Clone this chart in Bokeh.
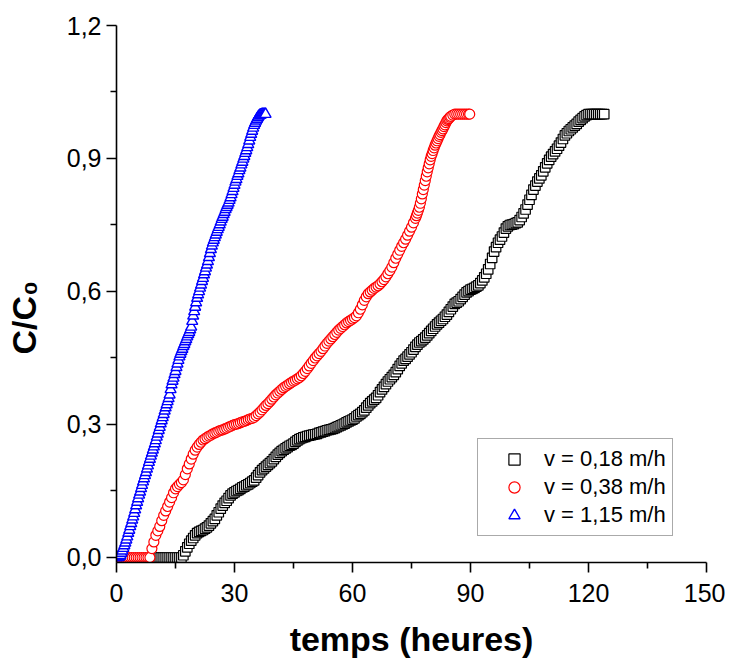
from bokeh.plotting import figure
from bokeh.models import FixedTicker, Legend, LegendItem, Range1d, CustomJSTickFormatter
from bokeh.embed import file_html
from bokeh.resources import INLINE

# v = 0,18 m/h  (black squares)
t_018 = [0, 0.5, 1, 1.5, 2, 2.5, 3, 3.5, 4, 4.5,
         5, 5.5, 6, 6.5, 7, 7.5, 8, 8.5, 9, 9.5,
         10, 10.5, 11, 11.5, 12, 12.5, 13, 13.5, 14, 14.5,
         15, 15.5, 16, 16.5, 17, 17.5, 18, 18.5, 19, 19.5,
         20, 20.5, 21, 21.5, 22, 22.5, 23, 23.5, 24, 24.5,
         25, 25.5, 26, 26.5, 27, 27.5, 28, 28.5, 29, 29.5,
         30, 30.5, 31, 31.5, 32, 32.5, 33, 33.5, 34, 34.5,
         35, 35.5, 36, 36.5, 37, 37.5, 38, 38.5, 39, 39.5,
         40, 40.5, 41, 41.5, 42, 42.5, 43, 43.5, 44, 44.5,
         45, 45.5, 46, 46.5, 47, 47.5, 48, 48.5, 49, 49.5,
         50, 50.5, 51, 51.5, 52, 52.5, 53, 53.5, 54, 54.5,
         55, 55.5, 56, 56.5, 57, 57.5, 58, 58.5, 59, 59.5,
         60, 60.5, 61, 61.5, 62, 62.5, 63, 63.5, 64, 64.5,
         65, 65.5, 66, 66.5, 67, 67.5, 68, 68.5, 69, 69.5,
         70, 70.5, 71, 71.5, 72, 72.5, 73, 73.5, 74, 74.5,
         75, 75.5, 76, 76.5, 77, 77.5, 78, 78.5, 79, 79.5,
         80, 80.5, 81, 81.5, 82, 82.5, 83, 83.5, 84, 84.5,
         85, 85.5, 86, 86.5, 87, 87.5, 88, 88.5, 89, 89.5,
         90, 90.5, 91, 91.5, 92, 92.5, 93, 93.5, 94, 94.5,
         95, 95.5, 96, 96.5, 97, 97.5, 98, 98.5, 99, 99.5,
         100, 100.5, 101, 101.5, 102, 102.5, 103, 103.5, 104, 104.5,
         105, 105.5, 106, 106.5, 107, 107.5, 108, 108.5, 109, 109.5,
         110, 110.5, 111, 111.5, 112, 112.5, 113, 113.5, 114, 114.5,
         115, 115.5, 116, 116.5, 117, 117.5, 118, 118.5, 119, 119.5,
         120, 120.5, 121, 121.5, 122, 122.5, 123, 123.5, 124]
c_018 = [0, 0, 0, 0, 0, 0, 0, 0, 0, 0,
         0, 0, 0, 0, 0, 0, 0, 0, 0, 0,
         0, 0, 0, 0, 0, 0, 0, 0, 0, 0,
         0, 0, 0, 0, 0.005, 0.014, 0.023, 0.031, 0.038, 0.044,
         0.05, 0.055, 0.058, 0.06, 0.062, 0.065, 0.068, 0.072, 0.077, 0.082,
         0.087, 0.095, 0.102, 0.11, 0.117, 0.123, 0.128, 0.134, 0.14, 0.144,
         0.147, 0.15, 0.152, 0.155, 0.158, 0.16, 0.163, 0.165, 0.168, 0.171,
         0.174, 0.18, 0.186, 0.192, 0.197, 0.201, 0.205, 0.209, 0.213, 0.217,
         0.222, 0.227, 0.232, 0.236, 0.24, 0.243, 0.246, 0.249, 0.252, 0.254,
         0.257, 0.261, 0.264, 0.267, 0.269, 0.271, 0.272, 0.274, 0.275, 0.276,
         0.277, 0.278, 0.279, 0.281, 0.282, 0.284, 0.285, 0.287, 0.288, 0.289,
         0.29, 0.292, 0.294, 0.296, 0.298, 0.3, 0.302, 0.305, 0.307, 0.309,
         0.311, 0.314, 0.318, 0.321, 0.324, 0.328, 0.332, 0.338, 0.343, 0.348,
         0.352, 0.356, 0.36, 0.366, 0.373, 0.379, 0.385, 0.391, 0.397, 0.402,
         0.407, 0.412, 0.418, 0.425, 0.432, 0.438, 0.444, 0.448, 0.453, 0.458,
         0.463, 0.469, 0.475, 0.48, 0.485, 0.488, 0.492, 0.496, 0.501, 0.506,
         0.511, 0.516, 0.521, 0.526, 0.53, 0.534, 0.538, 0.543, 0.548, 0.554,
         0.56, 0.566, 0.572, 0.575, 0.578, 0.583, 0.588, 0.593, 0.598, 0.601,
         0.604, 0.606, 0.608, 0.611, 0.614, 0.619, 0.625, 0.632, 0.64, 0.65,
         0.662, 0.676, 0.69, 0.7, 0.71, 0.717, 0.724, 0.733, 0.742, 0.747,
         0.75, 0.751, 0.752, 0.754, 0.756, 0.761, 0.768, 0.776, 0.785, 0.796,
         0.807, 0.818, 0.83, 0.839, 0.848, 0.855, 0.862, 0.871, 0.88, 0.889,
         0.897, 0.904, 0.91, 0.916, 0.922, 0.929, 0.936, 0.944, 0.952, 0.957,
         0.962, 0.966, 0.97, 0.974, 0.978, 0.983, 0.987, 0.991, 0.995, 0.998,
         1.0, 1.0, 1.0, 1.0, 1.0, 1.0, 1.0, 1.0, 1.0]

# v = 0,38 m/h  (red circles)
t_038 = [0, 0.5, 1, 1.5, 2, 2.5, 3, 3.5, 4, 4.5,
         5, 5.5, 6, 6.5, 7, 7.5, 8, 8.5, 9, 9.5,
         10, 10.5, 11, 11.5, 12, 12.5, 13, 13.5, 14, 14.5,
         15, 15.5, 16, 16.5, 17, 17.5, 18, 18.5, 19, 19.5,
         20, 20.5, 21, 21.5, 22, 22.5, 23, 23.5, 24, 24.5,
         25, 25.5, 26, 26.5, 27, 27.5, 28, 28.5, 29, 29.5,
         30, 30.5, 31, 31.5, 32, 32.5, 33, 33.5, 34, 34.5,
         35, 35.5, 36, 36.5, 37, 37.5, 38, 38.5, 39, 39.5,
         40, 40.5, 41, 41.5, 42, 42.5, 43, 43.5, 44, 44.5,
         45, 45.5, 46, 46.5, 47, 47.5, 48, 48.5, 49, 49.5,
         50, 50.5, 51, 51.5, 52, 52.5, 53, 53.5, 54, 54.5,
         55, 55.5, 56, 56.5, 57, 57.5, 58, 58.5, 59, 59.5,
         60, 60.5, 61, 61.5, 62, 62.5, 63, 63.5, 64, 64.5,
         65, 65.5, 66, 66.5, 67, 67.5, 68, 68.5, 69, 69.5,
         70, 70.5, 71, 71.5, 72, 72.5, 73, 73.5, 74, 74.5,
         75, 75.5,
         76, 76.25, 76.5, 76.75, 77, 77.25, 77.5, 77.75, 78, 78.25,
         78.5, 78.75, 79, 79.25, 79.5, 79.75, 80, 80.25, 80.5, 80.75,
         81, 81.25, 81.5, 81.75, 82, 82.25, 82.5, 82.75, 83, 83.25,
         83.5, 83.75, 84, 84.25, 84.5, 84.75, 85,
         85.5, 86, 86.5, 87, 87.5, 88, 88.5, 89, 89.5, 89.8]
c_038 = [0, 0, 0, 0, 0, 0, 0, 0, 0, 0,
         0, 0, 0, 0, 0, 0, 0, 0, 0.02, 0.035,
         0.05, 0.06, 0.07, 0.083, 0.095, 0.105, 0.115, 0.125, 0.135, 0.146,
         0.155, 0.16, 0.165, 0.169, 0.175, 0.187, 0.2, 0.211, 0.222, 0.233,
         0.242, 0.249, 0.255, 0.26, 0.265, 0.268, 0.271, 0.274, 0.276, 0.279,
         0.281, 0.283, 0.285, 0.287, 0.288, 0.29, 0.292, 0.294, 0.296, 0.298,
         0.3, 0.301, 0.302, 0.304, 0.306, 0.307, 0.309, 0.311, 0.313, 0.314,
         0.316, 0.32, 0.324, 0.328, 0.333, 0.338, 0.343, 0.347, 0.352, 0.357,
         0.362, 0.367, 0.371, 0.375, 0.379, 0.383, 0.386, 0.389, 0.392, 0.395,
         0.398, 0.4, 0.403, 0.406, 0.41, 0.415, 0.42, 0.426, 0.432, 0.438,
         0.444, 0.45, 0.455, 0.46, 0.465, 0.471, 0.477, 0.483, 0.488, 0.493,
         0.498, 0.503, 0.508, 0.513, 0.517, 0.521, 0.525, 0.529, 0.532, 0.535,
         0.538, 0.541, 0.545, 0.552, 0.56, 0.57, 0.58, 0.588, 0.595, 0.599,
         0.603, 0.607, 0.61, 0.613, 0.617, 0.622, 0.627, 0.633, 0.64, 0.647,
         0.655, 0.665, 0.675, 0.684, 0.693, 0.702, 0.71, 0.718, 0.727, 0.736,
         0.745, 0.755,
         0.765, 0.771, 0.777, 0.783, 0.79, 0.799, 0.809, 0.82, 0.83, 0.84,
         0.85, 0.86, 0.87, 0.879, 0.888, 0.897, 0.905, 0.911, 0.918, 0.924,
         0.93, 0.935, 0.94, 0.945, 0.95, 0.954, 0.959, 0.963, 0.967, 0.972,
         0.976, 0.981, 0.985, 0.988, 0.99, 0.993, 0.995,
         0.998, 1.0, 1.0, 1.0, 1.0, 1.0, 1.0, 1.0, 1.0, 1.0]

# v = 1,15 m/h  (blue triangles)
t_115 = [0, 0.25, 0.5, 0.75, 1, 1.25, 1.5, 1.75,
         2, 2.25, 2.5, 2.75, 3, 3.25, 3.5, 3.75,
         4, 4.25, 4.5, 4.75, 5, 5.25, 5.5, 5.75,
         6, 6.25, 6.5, 6.75, 7, 7.25, 7.5, 7.75,
         8, 8.25, 8.5, 8.75, 9, 9.25, 9.5, 9.75,
         10, 10.25, 10.5, 10.75, 11, 11.25, 11.5, 11.75,
         12, 12.25, 12.5, 12.75, 13, 13.25, 13.5, 13.75,
         14, 14.25, 14.5, 14.75, 15, 15.25, 15.5, 15.75,
         16, 16.25, 16.5, 16.75, 17, 17.25, 17.5, 17.75,
         18, 18.25, 18.5, 18.75, 19, 19.25, 19.5, 19.75,
         20, 20.25, 20.5, 20.75, 21, 21.25, 21.5, 21.75,
         22, 22.25, 22.5, 22.75, 23, 23.25, 23.5, 23.75,
         24, 24.25, 24.5, 24.75, 25, 25.25, 25.5, 25.75,
         26, 26.25, 26.5, 26.75, 27, 27.25, 27.5, 27.75,
         28, 28.25, 28.5, 28.75, 29, 29.25, 29.5, 29.75,
         30, 30.25, 30.5, 30.75, 31, 31.25, 31.5, 31.75,
         32, 32.25, 32.5, 32.75, 33, 33.25, 33.5, 33.75,
         34, 34.25, 34.5, 34.75, 35, 35.25, 35.5, 35.75,
         36, 36.25, 36.5, 36.75, 37, 37.25, 37.5, 37.75,
         37.9]
c_115 = [0, 0, 0, 0.002, 0.005, 0.01, 0.015, 0.021,
         0.027, 0.033, 0.04, 0.047, 0.055, 0.062, 0.07, 0.077,
         0.085, 0.092, 0.1, 0.108, 0.117, 0.125, 0.133, 0.141,
         0.148, 0.156, 0.163, 0.171, 0.178, 0.185, 0.192, 0.2,
         0.207, 0.215, 0.222, 0.229, 0.236, 0.243, 0.25, 0.257,
         0.264, 0.272, 0.279, 0.287, 0.294, 0.302, 0.309, 0.316,
         0.323, 0.331, 0.338, 0.345, 0.352, 0.359, 0.367, 0.379,
         0.39, 0.398, 0.405, 0.413, 0.42, 0.429, 0.437, 0.445,
         0.453, 0.459, 0.465, 0.47, 0.476, 0.481, 0.487, 0.492,
         0.498, 0.503, 0.508, 0.514, 0.52, 0.533, 0.545, 0.555,
         0.565, 0.575, 0.585, 0.593, 0.6, 0.608, 0.615, 0.623,
         0.63, 0.638, 0.645, 0.653, 0.66, 0.668, 0.677, 0.686,
         0.695, 0.703, 0.71, 0.716, 0.722, 0.728, 0.734, 0.74,
         0.745, 0.751, 0.757, 0.763, 0.768, 0.774, 0.779, 0.785,
         0.79, 0.795, 0.8, 0.806, 0.812, 0.819, 0.826, 0.833,
         0.84, 0.847, 0.853, 0.86, 0.866, 0.873, 0.879, 0.886,
         0.892, 0.899, 0.905, 0.912, 0.918, 0.925, 0.932, 0.94,
         0.948, 0.955, 0.962, 0.969, 0.975, 0.98, 0.985, 0.989,
         0.993, 0.996, 0.998, 0.999, 1.0, 1.0, 1.0, 1.0,
         1.0]

x_ticks = [0, 30, 60, 90, 120, 150]
x_minor = [15, 45, 75, 105, 135]
y_ticks = [0, 0.3, 0.6, 0.9, 1.2]
y_minor = [0.15, 0.45, 0.75, 1.05]
labels = ["v = 0,18 m/h", "v = 0,38 m/h", "v = 1,15 m/h"]

FONT = "Liberation Sans"

p = figure(width=725, height=662, output_backend="svg", toolbar_location=None,
           x_range=Range1d(0, 150), y_range=Range1d(-0.0113, 1.2),
           min_border_left=116, min_border_right=19, min_border_top=25,
           min_border_bottom=100)
p.outline_line_color = None
p.xgrid.visible = False
p.ygrid.visible = False
p.background_fill_color = "white"

r1 = p.scatter(t_018, c_018, marker="square", size=9.5, line_color="black",
               fill_color="white", line_width=1.2)
r2 = p.scatter(t_038, c_038, marker="circle", size=10, line_color="red",
               fill_color="white", line_width=1.2)
r3 = p.scatter(t_115, c_115, marker="triangle", size=11, line_color="blue",
               fill_color="white", line_width=1.4)

p.xaxis.ticker = FixedTicker(ticks=x_ticks, minor_ticks=x_minor)
p.yaxis.ticker = FixedTicker(ticks=y_ticks, minor_ticks=y_minor)
p.yaxis.formatter = CustomJSTickFormatter(code="return tick.toFixed(1).replace('.', ',');")
p.xaxis.formatter = CustomJSTickFormatter(code="return tick.toFixed(0);")

p.xaxis.axis_label = "temps (heures)"
p.yaxis.axis_label = "C/C\u2080" + "\u00a0" * 5

for ax in (p.xaxis[0], p.yaxis[0]):
    ax.axis_line_width = 1.6
    ax.axis_line_color = "black"
    ax.major_tick_line_width = 1.6
    ax.minor_tick_line_width = 1.6
    ax.major_tick_line_color = "black"
    ax.minor_tick_line_color = "black"
    ax.major_tick_in = 0
    ax.major_tick_out = 10
    ax.minor_tick_in = 0
    ax.minor_tick_out = 6
    ax.major_label_text_font = FONT
    ax.major_label_text_font_size = "25px"
    ax.major_label_text_color = "black"
    ax.axis_label_text_font = FONT
    ax.axis_label_text_font_style = "bold"
    ax.axis_label_text_font_size = "34px"
    ax.axis_label_text_color = "black"

p.xaxis.major_label_standoff = 11
p.xaxis.axis_label_standoff = 15
p.yaxis.major_label_standoff = 5
p.yaxis.axis_label_standoff = 21

legend = Legend(items=[LegendItem(label=labels[0], renderers=[r1]),
                       LegendItem(label=labels[1], renderers=[r2]),
                       LegendItem(label=labels[2], renderers=[r3])],
                location=(361, 26))
legend.border_line_color = "#555555"
legend.border_line_width = 1.5
legend.padding = 6
legend.margin = 0
legend.glyph_width = 60
legend.glyph_height = 28
legend.label_height = 28
legend.label_standoff = 0
legend.spacing = 0
legend.label_text_font = FONT
legend.label_text_font_size = "22px"
legend.label_text_color = "black"
legend.background_fill_color = "white"
legend.background_fill_alpha = 1
p.add_layout(legend)

open("out.html", "w").write(file_html(p, INLINE))
